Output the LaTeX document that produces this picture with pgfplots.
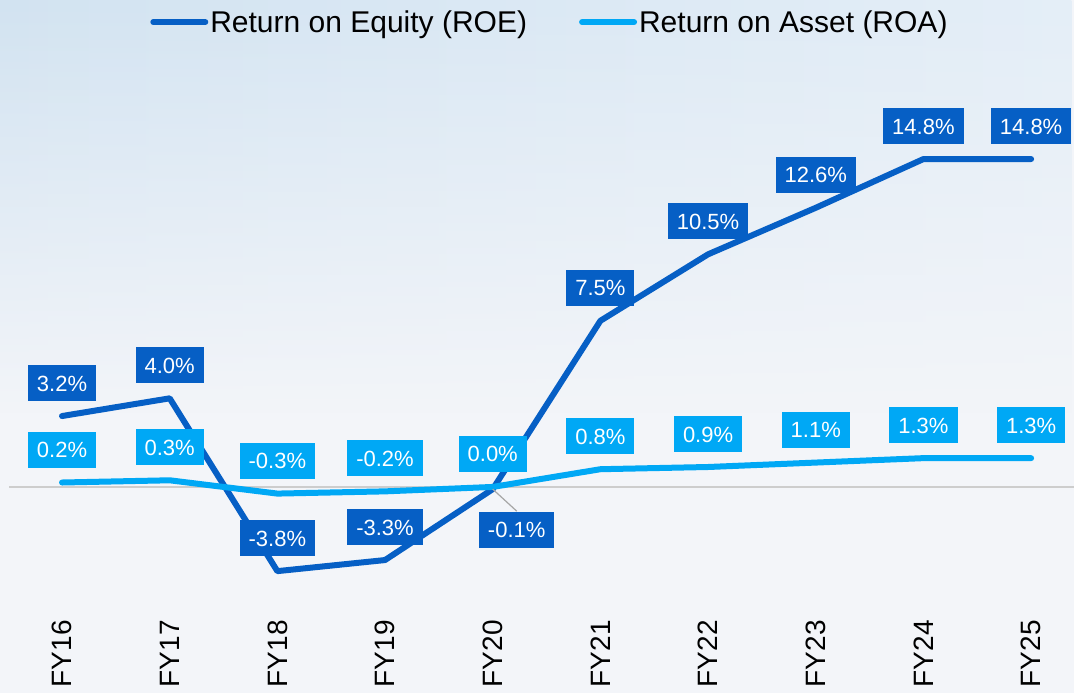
\documentclass[border=0pt]{standalone}
\usepackage{pgfplots}
\pgfplotsset{compat=1.18}
\usetikzlibrary{fadings}
\usepackage{fontspec}
\setmainfont{Liberation Sans}
\definecolor{roe}{RGB}{6,95,197}
\definecolor{roa}{RGB}{0,168,245}
\definecolor{bgl}{RGB}{210,227,241}
\definecolor{bgr}{RGB}{228,238,247}
\definecolor{bgbot}{RGB}{243,245,249}
\definecolor{zeroline}{RGB}{205,205,205}
\begin{document}
\begin{tikzpicture}[x=1bp,y=1bp]
\useasboundingbox (0,0) rectangle (1074,693);
\fill[bgbot] (0,0) rectangle (1074,693);
\shade[left color=bgl, right color=bgr, path fading=south] (0,280) rectangle (1074,693);
\begin{axis}[
  at={(0bp,78bp)}, anchor=south west,
  scale only axis, width=1074bp, height=615bp,
  xmin=-0.576, xmax=9.399, ymin=-5.78, ymax=21.98,
  axis line style={draw=none},
  tick style={draw=none},
  major tick length=0pt,
  xtick={0,1,2,3,4,5,6,7,8,9},
  xticklabels={FY16,FY17,FY18,FY19,FY20,FY21,FY22,FY23,FY24,FY25},
  xticklabel style={rotate=90, anchor=east, inner xsep=5bp, inner ysep=0pt,
    font=\fontsize{28bp}{32bp}\selectfont, text=black},
  ytick=\empty,
  clip=false,
  legend style={at={(0.512,0.964)}, anchor=center, draw=none, fill=none,
    font=\fontsize{30bp}{34bp}\selectfont,
    /tikz/every even column/.append style={column sep=50bp},
    nodes={inner sep=2bp}},
  legend columns=2,
  legend image code/.code={\draw[#1, line width=6bp, line cap=round] (0bp,0bp) -- (52bp,0bp);},
  lbl/.style={forget plot, draw=none, point meta=explicit symbolic, nodes near coords,
    nodes near coords style={anchor=center, yshift=33bp, text=white,
      font=\fontsize{22bp}{26bp}\selectfont, inner xsep=9bp, inner ysep=0pt,
      minimum height=36bp, text height=16bp, text depth=0bp, fill=#1}},
]
\addplot[zeroline, line width=1.5bp, forget plot] coordinates {(-0.492,0) (9.399,0)};
\addplot[roe, line width=6bp, line join=round, line cap=round]
  coordinates {(0,3.2) (1,4.0) (2,-3.8) (3,-3.3) (4,-0.1) (5,7.5) (6,10.5) (7,12.6) (8,14.8) (9,14.8)};
\addlegendentry{Return on Equity (ROE)}
\addplot[roa, line width=6bp, line join=round, line cap=round]
  coordinates {(0,0.2) (1,0.3) (2,-0.3) (3,-0.2) (4,0.0) (5,0.8) (6,0.9) (7,1.1) (8,1.3) (9,1.3)};
\addlegendentry{Return on Asset (ROA)}
\draw[gray!70, line width=1.2bp] (axis cs:4,-0.1) -- ++(24bp,-22bp);
\addplot[lbl=roe] coordinates {(0,3.2) [3.2\%] (1,4.0) [4.0\%] (2,-3.8) [-3.8\%] (3,-3.3) [-3.3\%]
  (5,7.5) [7.5\%] (6,10.5) [10.5\%] (7,12.6) [12.6\%] (8,14.8) [14.8\%] (9,14.8) [14.8\%]};
\addplot[forget plot, draw=none, point meta=explicit symbolic, nodes near coords,
    nodes near coords style={anchor=center, xshift=24bp, yshift=-40.5bp, text=white,
      font=\fontsize{22bp}{26bp}\selectfont, inner xsep=9bp, inner ysep=0pt,
      minimum height=36bp, text height=16bp, text depth=0bp, fill=roe}]
  coordinates {(4,-0.1) [-0.1\%]};
\addplot[lbl=roa] coordinates {(0,0.2) [0.2\%] (1,0.3) [0.3\%] (2,-0.3) [-0.3\%] (3,-0.2) [-0.2\%]
  (4,0.0) [0.0\%] (5,0.8) [0.8\%] (6,0.9) [0.9\%] (7,1.1) [1.1\%] (8,1.3) [1.3\%] (9,1.3) [1.3\%]};
\end{axis}
\end{tikzpicture}
\end{document}
